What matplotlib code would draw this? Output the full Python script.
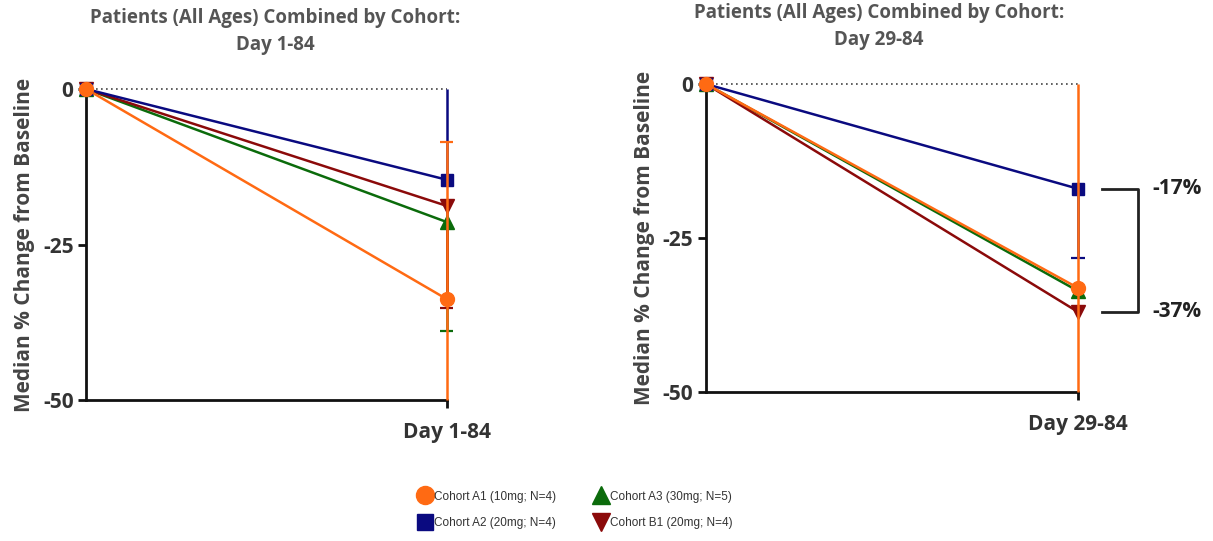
import matplotlib
matplotlib.use("Agg")
import matplotlib.pyplot as plt
from matplotlib.lines import Line2D

plt.rcParams['font.family'] = ['Open Sans', 'DejaVu Sans']

# cohorts and styling
cohorts = ['Cohort A1 (10mg; N=4)', 'Cohort A2 (20mg; N=4)',
           'Cohort A3 (30mg; N=5)', 'Cohort B1 (20mg; N=4)']
colors = ['#FF6A13', '#0A0A80', '#0B6B0B', '#8B0A0A']
markers = ['o', 's', '^', 'v']
msizes = [10, 9, 10, 10]

# left panel: Day 1-84 medians and error bar ends
left_vals = [-33.8, -14.6, -21.4, -18.8]
left_lo = [-60.0, -14.6, -38.9, -35.2]
left_hi = [-8.5, 2.0, -21.4, -18.8]

# right panel: Day 29-84
right_vals = [-33.1, -17.0, -33.6, -37.0]
right_lo = [-60.0, -28.2, -33.6, -37.0]
right_hi = [2.0, -17.0, -33.6, -37.0]

bracket_vals = [-17, -37]
bracket_labels = ['-17%', '-37%']

fig = plt.figure(figsize=(12.13, 5.41), dpi=100)
ax1 = fig.add_axes([0.0709, 0.2606, 0.2976, 0.5749])
ax2 = fig.add_axes([0.5820, 0.2754, 0.3067, 0.5693])

draw_order = [2, 3, 1, 0]


def panel(ax, vals, lo, hi, title, xlabel):
    ax.plot([0, 1], [0, 0], color='#444444', lw=1.2, ls=(0, (1, 2)),
            zorder=1, clip_on=False)
    for i in draw_order:
        ax.plot([0, 1], [0, vals[i]], color=colors[i], lw=1.8, zorder=3)
        ax.plot([0, 1], [0, vals[i]], ls='none', marker=markers[i],
                ms=msizes[i], color=colors[i], clip_on=False, zorder=5)
    # error bars (cut at the axis range), orange one over the markers
    for i in [1, 2, 3, 0]:
        if lo[i] == hi[i]:
            continue
        z = 6 if i == 0 else 4
        y0, y1 = max(lo[i], -50), min(hi[i], 0)
        ax.vlines(1, y0, y1, color=colors[i], lw=1.8, zorder=z, clip_on=False)
        for end in (lo[i], hi[i]):
            if -50 < end < 0 and end != vals[i]:
                ax.hlines(end, 0.982, 1.018, color=colors[i], lw=1.6,
                          zorder=z, clip_on=False)
    ax.set_xlim(0, 1)
    ax.set_ylim(-50, 0)
    ax.set_yticks([0, -25, -50])
    ax.set_yticklabels(['0', '-25', '-50'])
    ax.set_xticks([1])
    ax.set_xticklabels([xlabel])
    for s in ['top', 'right']:
        ax.spines[s].set_visible(False)
    for s in ['left', 'bottom']:
        ax.spines[s].set_linewidth(2)
        ax.spines[s].set_color('#111111')
    ax.tick_params(width=2, length=6, color='#111111', labelsize=15,
                   labelcolor='#333333', pad=3)
    for t in ax.get_xticklabels() + ax.get_yticklabels():
        t.set_fontweight('bold')
    ax.xaxis.set_tick_params(pad=10)
    ax.set_ylabel('Median % Change from Baseline', fontsize=15,
                  fontweight='bold', color='#444444', labelpad=6)
    ax.set_title(title, fontsize=13.5, fontweight='bold', color='#555555',
                 pad=28, linespacing=1.5)


panel(ax1, left_vals, left_lo, left_hi,
      'Patients (All Ages) Combined by Cohort:\nDay 1-84', 'Day 1-84')
panel(ax2, right_vals, right_lo, right_hi,
      'Patients (All Ages) Combined by Cohort:\nDay 29-84', 'Day 29-84')
ax1.title.set_position((0.525, 1.0))
ax2.title.set_position((0.465, 1.0))

# bracket between cohort A2 and the lowest cohort
bx0, bx1 = 1.065, 1.16
ax2.plot([bx0, bx1, bx1, bx0], [bracket_vals[0], bracket_vals[0],
         bracket_vals[1], bracket_vals[1]], color='#222222', lw=2,
         clip_on=False)
for v, lab in zip(bracket_vals, bracket_labels):
    ax2.text(1.2, v, lab, fontsize=15, fontweight='bold', color='#222222',
             va='center', ha='left', clip_on=False)

handles = [Line2D([], [], ls='none', marker=markers[i], ms=msizes[i] + 3,
                  color=colors[i]) for i in range(4)]
leg = fig.legend(handles, cohorts, loc='center', bbox_to_anchor=(0.474, 0.058),
                 ncol=2, frameon=False, handletextpad=0.15, columnspacing=3.2,
                 labelspacing=1.2, handlelength=1.2,
                 prop={'family': 'Liberation Sans', 'size': 8.5})
for t in leg.get_texts():
    t.set_color('#333333')

fig.savefig('out.png', dpi=100, facecolor='white')
